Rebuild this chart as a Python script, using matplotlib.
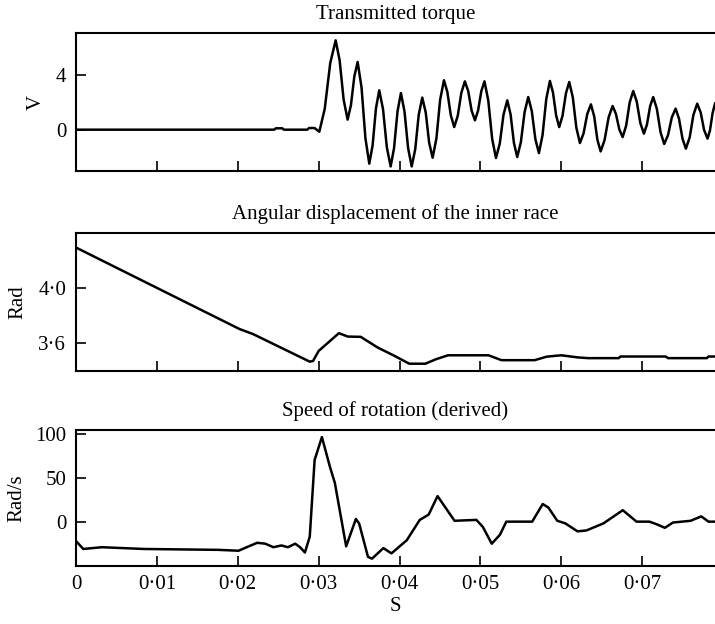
import numpy as np
import matplotlib
matplotlib.use('Agg')
import matplotlib.pyplot as plt
from matplotlib.ticker import FuncFormatter

plt.rcParams['font.family'] = ['Liberation Serif', 'DejaVu Serif']
plt.rcParams['font.size'] = 15

# transmitted torque (V)
torque_t = [0.0, 0.0245, 0.0247, 0.0255, 0.0257, 0.0286, 0.0288, 0.0295, 0.03008,
            0.03075, 0.03143, 0.0321, 0.03259, 0.03309, 0.03358, 0.03399, 0.03441,
            0.03482, 0.0353, 0.03578, 0.03626, 0.03667, 0.03708, 0.03749, 0.03796,
            0.03843, 0.0389, 0.03932, 0.03975, 0.04017, 0.04061, 0.04106, 0.0415,
            0.04194, 0.04237, 0.04281, 0.04324, 0.04366, 0.04409, 0.04456, 0.04502,
            0.04549, 0.04591, 0.04634, 0.04676, 0.0472, 0.04764, 0.04808, 0.04849,
            0.04891, 0.04932, 0.04971, 0.05011, 0.0505, 0.05097, 0.05145, 0.05192,
            0.05239, 0.05285, 0.05332, 0.05373, 0.05414, 0.05455, 0.055, 0.05546,
            0.05591, 0.05635, 0.05679, 0.05723, 0.05768, 0.05814, 0.05859, 0.05897,
            0.05936, 0.05974, 0.06015, 0.06057, 0.06098, 0.06142, 0.06186, 0.0623,
            0.06275, 0.06321, 0.06366, 0.06406, 0.06446, 0.06486, 0.06535, 0.06585,
            0.06634, 0.06675, 0.06717, 0.06758, 0.06802, 0.06845, 0.06889, 0.06933,
            0.06977, 0.07021, 0.07059, 0.07098, 0.07136, 0.07181, 0.07227, 0.07272,
            0.07319, 0.07366, 0.07413, 0.07455, 0.07498, 0.0754, 0.07587, 0.07633,
            0.0768, 0.07723, 0.07765, 0.07808, 0.07838, 0.0787, 0.0790]
torque_v = [0.0, 0.0, 0.1, 0.1, 0.0, 0.0, 0.12, 0.12, -0.15,
            1.51, 4.83, 6.49, 5.05, 2.17, 0.73, 1.78, 3.87,
            4.92, 3.07, -0.62, -2.47, -1.14, 1.53, 2.86, 1.48,
            -1.29, -2.67, -1.34, 1.33, 2.66, 1.33, -1.34, -2.67,
            -1.42, 1.08, 2.33, 1.24, -0.95, -2.04, -0.63, 2.18,
            3.59, 2.74, 1.04, 0.19, 1.02, 2.68, 3.51, 2.80,
            1.39, 0.68, 1.39, 2.80, 3.51, 2.12, -0.67, -2.06,
            -1.01, 1.08, 2.13, 1.10, -0.96, -1.99, -0.90, 1.28,
            2.37, 1.35, -0.68, -1.70, -0.39, 2.23, 3.54, 2.70,
            1.03, 0.19, 1.01, 2.64, 3.46, 2.35, 0.14, -0.97,
            -0.27, 1.14, 1.84, 0.98, -0.73, -1.58, -0.75, 0.90,
            1.72, 1.15, 0.02, -0.54, 0.30, 1.97, 2.81, 2.03,
            0.48, -0.29, 0.38, 1.71, 2.37, 1.52, -0.19, -1.04,
            -0.40, 0.89, 1.53, 0.80, -0.65, -1.38, -0.56, 1.07,
            1.89, 1.25, -0.02, -0.65, -0.05, 1.2, 1.9]

# angular displacement of the inner race (Rad)
angle_t = [0.0, 0.0202, 0.0219, 0.0289, 0.0293, 0.0300, 0.0325, 0.0336, 0.0352,
           0.0373, 0.0394, 0.0412, 0.0432, 0.0445, 0.0460, 0.0510, 0.0526, 0.0567,
           0.0582, 0.0600, 0.0621, 0.0633, 0.0671, 0.0673, 0.0729, 0.0732, 0.0780,
           0.0782, 0.0790]
angle_v = [4.30, 3.70, 3.662, 3.459, 3.464, 3.538, 3.669, 3.644, 3.642,
           3.563, 3.501, 3.444, 3.444, 3.477, 3.506, 3.506, 3.470, 3.470,
           3.496, 3.506, 3.490, 3.485, 3.485, 3.497, 3.497, 3.485, 3.485,
           3.497, 3.497]

# speed of rotation, derived (Rad/s)
speed_t = [0.0, 0.0009, 0.0032, 0.0084, 0.0176, 0.0201, 0.0211, 0.0224, 0.0234,
           0.0244, 0.0254, 0.0262, 0.0271, 0.0277, 0.0283, 0.0289, 0.0295, 0.0304,
           0.0314, 0.0320, 0.0334, 0.0346, 0.0350, 0.0361, 0.0366, 0.0380, 0.0390,
           0.0409, 0.0425, 0.0436, 0.0447, 0.0468, 0.0495, 0.0503, 0.0514, 0.0524,
           0.0532, 0.0564, 0.0577, 0.0584, 0.0595, 0.0605, 0.0620, 0.0631, 0.0652,
           0.0676, 0.0693, 0.0709, 0.0718, 0.0728, 0.0738, 0.0760, 0.0773, 0.0782,
           0.0790]
speed_v = [-22, -31, -29, -31, -32, -33, -29, -24, -25,
           -29, -27, -29, -25, -29, -35, -17, 70, 96,
           62, 44, -28, 3, -2, -40, -42, -30, -36,
           -21, 2, 8, 29, 1, 2, -6, -25, -15,
           0, 0, 20, 16, 1, -2, -11, -10, -2,
           13, 0, 0, -3, -7, -1, 1, 6, 0,
           0]

titles = ['Transmitted torque', 'Angular displacement of the inner race',
          'Speed of rotation (derived)']
ylabels = ['V', 'Rad', 'Rad/s']
yticks = [[0, 4], [3.6, 4.0], [0, 50, 100]]
ylims = [(-3, 7), (3.39, 4.405), (-50, 104)]
xticks = [0, 0.01, 0.02, 0.03, 0.04, 0.05, 0.06, 0.07]


def dot_fmt(decimals):
    def f(v, pos):
        if abs(v) < 1e-12:
            return '0'
        return f'{v:.{decimals}f}'.replace('.', '·')
    return FuncFormatter(f)


fig = plt.figure(figsize=(7.15, 6.24), dpi=100)
boxes = [(0.1063, 0.726, 0.8937, 0.2206),
         (0.1063, 0.4054, 0.8937, 0.2207),
         (0.1063, 0.0934, 0.8937, 0.2175)]
series = [(torque_t, torque_v), (angle_t, angle_v), (speed_t, speed_v)]
ydec = [0, 1, 0]
ylabelpads = [7, 8, 6]

for i, (box, (t, v)) in enumerate(zip(boxes, series)):
    ax = fig.add_axes(box)
    ax.plot(t, v, color='black', lw=1.8, solid_joinstyle='round')
    ax.set_xlim(0, 0.079)
    ax.set_ylim(*ylims[i])
    ax.set_xticks(xticks)
    ax.set_yticks(yticks[i])
    ax.yaxis.set_major_formatter(dot_fmt(ydec[i]))
    ax.xaxis.set_major_formatter(dot_fmt(2))
    ax.spines['right'].set_visible(False)
    for s in ['left', 'top', 'bottom']:
        ax.spines[s].set_linewidth(1.5)
    ax.tick_params(direction='in', length=7, width=1.2, labelsize=15, pad=7)
    if i < 2:
        ax.tick_params(axis='x', labelbottom=False)
    ax.set_title(titles[i], fontsize=15, pad=10)
    ax.set_ylabel(ylabels[i], fontsize=15, labelpad=ylabelpads[i])

ax.set_xlabel('S', fontsize=15, labelpad=2)

fig.savefig('out.png', dpi=100)
